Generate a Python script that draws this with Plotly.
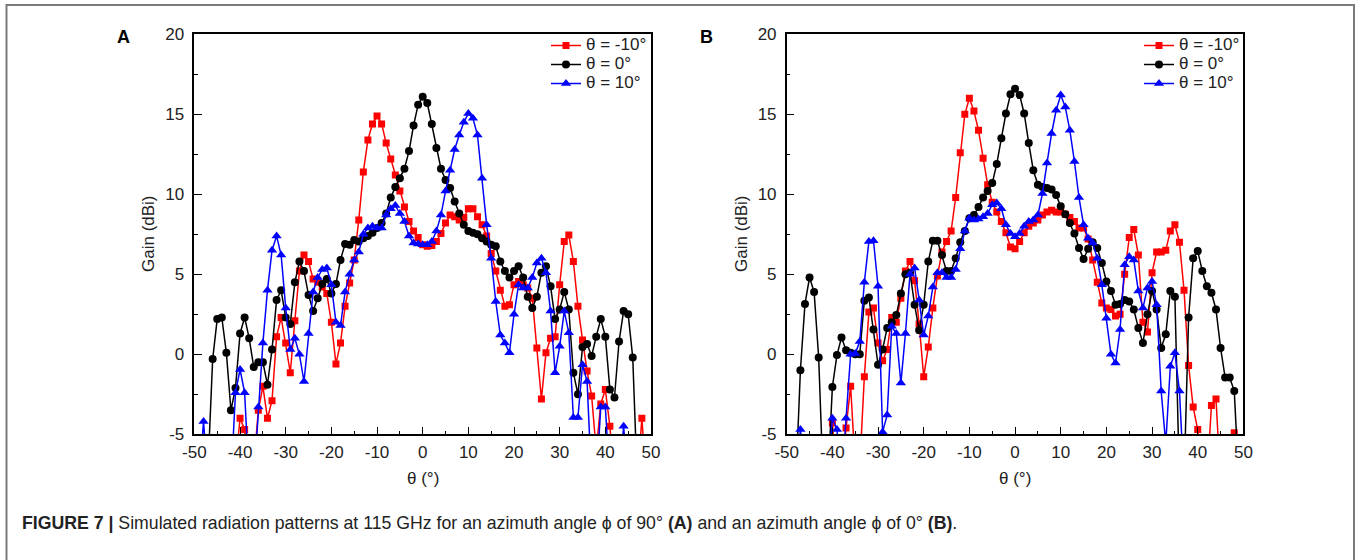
import plotly.graph_objects as go

# ---------------- data ----------------
theta = list(range(-50, 51))  # 1-degree steps
OFF = -8  # values below the plotted range (clipped by the axis)

# Panel A (phi = 90 deg)
a_red = [OFF, OFF, OFF, OFF, OFF, OFF, OFF, OFF, OFF, -7,
         -4.0, -4.7, OFF, -7, -3.5, -2.0, -4.0, -2.9, 1.1, 2.3,
         0.7, -1.15, 2.1, 5.2, 6.2, 5.8, 4.7, 4.5, 4.2, 3.8,
         2.0, -0.6, 0.7, 3.0, 4.45, 5.9, 8.4, 11.4, 13.4, 14.4,
         14.9, 14.4, 13.2, 12.2, 11.2, 10.2, 9.2, 8.3, 7.7, 7.3,
         6.85, 6.75, 6.8, 7.05, 7.55, 8.2, 8.7, 8.6, 8.4, 8.55,
         9.1, 9.1, 8.6, 8.1, 7.4, 6.3, 5.2, 4.0, 3.0, 3.1,
         4.35, 4.55, 4.35, 4.15, 3.5, 0.4, -2.8, 0.1, 1.0, 1.1,
         4.35, 7.05, 7.45, 5.8, 3.0, 0.9, -1.05, -2.6, -6, -3.1,
         -2.2, -4.5, OFF, OFF, OFF, OFF, OFF, OFF, -4.0, OFF,
         OFF]
a_black = [OFF, OFF, OFF, -7, -0.3, 2.2, 2.3, 0.1, -3.5, -2.1,
           1.3, 2.3, 1.0, -0.8, -0.5, -0.5, -1.9, 0.3, 3.4, 4.0,
           2.3, 1.9, 4.5, 5.8, 5.2, 3.7, 2.7, 3.5, 4.4, 4.7,
           3.8, 4.4, 5.9, 6.9, 6.85, 7.15, 7.05, 7.25, 7.4, 7.6,
           7.9, 8.2, 8.8, 9.8, 10.45, 11.0, 11.6, 12.7, 14.3, 15.6,
           16.1, 15.7, 14.4, 12.9, 11.6, 10.9, 10.4, 9.55, 8.8, 8.1,
           7.7, 7.6, 7.5, 7.25, 7.05, 6.85, 6.75, 5.8, 5.2, 4.8,
           5.2, 5.5, 4.8, 3.6, 2.9, 3.6, 5.1, 5.5, 4.25, 2.2,
           2.8, 3.9, 2.8, -1.15, -2.5, 0.45, 0.65, -0.1, 1.1, 2.2,
           1.1, -2.2, -2.7, 0.8, 2.7, 2.5, -0.2, OFF, OFF, OFF,
           OFF]
a_blue = [OFF, OFF, -4.2, OFF, OFF, OFF, OFF, OFF, OFF, -2.4,
          -0.95, -2.4, OFF, OFF, -3.3, 0.7, 4.0, 6.5, 7.4, 6.2,
          2.9, 0.3, 1.0, 0.0, -1.7, 1.3, 3.9, 4.8, 5.3, 5.4,
          4.35, 2.0, 1.8, 3.9, 5.0, 5.9, 6.4, 7.5, 7.9, 8.0,
          7.9, 7.9, 8.7, 9.1, 9.3, 8.8, 8.3, 7.4, 6.95, 6.9,
          6.85, 6.85, 7.05, 7.7, 8.7, 10.2, 11.5, 12.8, 13.7, 14.5,
          15.05, 14.75, 13.7, 11.0, 8.1, 6.0, 3.3, 1.2, 0.7, 0.1,
          2.5, 4.35, 4.15, 4.15, 4.8, 5.7, 6.0, 5.1, 2.7, -1.15,
          0.5, 2.7, 1.35, -3.95, -3.95, -0.65, -1.7, OFF, OFF, -3.3,
          -3.3, OFF, OFF, OFF, -4.5, OFF, OFF, OFF, OFF, OFF,
          OFF]

# Panel B (phi = 0 deg)
b_red = [OFF, OFF, OFF, OFF, OFF, OFF, OFF, OFF, OFF, OFF,
         -4.3, OFF, OFF, -4.6, -2.0, -7, -7, -1.4, 2.65, 2.9,
         0.7, -0.4, 0.3, 2.3, 2.0, 3.5, 5.2, 5.8, 4.6, 1.9,
         -1.4, 0.45, 2.9, 4.9, 6.4, 7.05, 7.7, 9.8, 12.6, 15.0,
         16.0, 15.2, 14.0, 12.25, 10.6, 9.5, 8.9, 8.3, 7.6, 6.7,
         6.6, 7.05, 7.6, 8.0, 8.2, 8.4, 8.7, 8.9, 9.0, 8.9,
         8.9, 8.75, 8.55, 8.3, 7.9, 7.9, 7.2, 5.9, 4.5, 3.2,
         2.9, 2.8, 2.4, 2.5, 5.0, 7.3, 7.8, 6.2, 2.0, 1.4,
         5.1, 6.4, 6.4, 6.5, 7.7, 8.1, 7.0, 4.0, -0.7, -3.3,
         -4.7, OFF, OFF, -3.2, -2.8, OFF, OFF, OFF, -4.9, OFF,
         OFF]
b_black = [OFF, OFF, OFF, -1.0, 3.15, 4.8, 3.9, -0.2, OFF, OFF,
           -2.05, -0.05, 1.05, 0.25, 0.1, 0.0, 0.0, 3.35, 3.55, 1.55,
           -0.65, 0.3, 1.65, 2.0, 2.45, 3.8, 5.0, 5.1, 3.1, 1.5,
           3.1, 5.8, 7.1, 7.1, 6.2, 5.2, 5.2, 6.0, 7.0, 7.7,
           8.5, 8.7, 9.2, 9.8, 10.2, 10.7, 11.9, 13.5, 15.05, 16.25,
           16.6, 16.2, 15.05, 13.2, 11.5, 10.6, 10.45, 10.4, 10.3, 9.95,
           9.25, 8.75, 8.2, 7.55, 6.65, 5.95, 6.6, 7.0, 6.65, 5.7,
           4.55, 3.95, 3.1, 3.15, 3.4, 3.3, 2.8, 1.65, 0.7, 2.5,
           3.95, 2.8, 0.4, 1.25, 3.95, 3.6, OFF, OFF, 2.3, 6.0,
           6.45, 5.2, 4.25, 3.85, 2.8, 0.4, -1.45, -1.45, -2.3, OFF,
           OFF]
b_blue = [OFF, OFF, OFF, -4.7, OFF, OFF, OFF, OFF, OFF, OFF,
          -4.0, -4.7, OFF, -4.0, 0.0, 0.05, 0.8, 4.5, 7.05, 7.1,
          4.25, -4.85, -3.8, 1.75, 1.3, -1.8, 1.3, 5.0, 5.4, 3.4,
          1.2, 2.4, 4.2, 5.1, 5.1, 4.8, 4.8, 5.3, 6.6, 7.7,
          8.5, 8.4, 8.45, 8.6, 8.8, 9.35, 9.45, 9.1, 8.1, 7.55,
          7.35, 7.55, 8.0, 8.3, 8.4, 8.7, 10.05, 11.95, 13.8, 15.25,
          16.2, 15.45, 14.0, 12.05, 9.8, 8.1, 7.25, 6.95, 6.0, 4.35,
          2.25, 0.0, -0.55, 1.55, 5.6, 6.1, 5.9, 3.95, 2.9, 4.15,
          4.55, 3.1, -2.3, -5.6, -0.75, 0.1, -2.3, OFF, OFF, OFF,
          OFF, OFF, OFF, OFF, OFF, OFF, OFF, OFF, OFF, OFF,
          OFF]

series_names = ["θ = -10°", "θ = 0°", "θ = 10°"]
x_ticks = [-50, -40, -30, -20, -10, 0, 10, 20, 30, 40, 50]
x_tick_labels = ["-50", "-40", "-30", "-20", "-10", "0", "10", "20", "30", "40", "50"]
y_ticks = [-5, 0, 5, 10, 15, 20]
y_tick_labels = ["-5", "0", "5", "10", "15", "20"]

# ---------------- figure ----------------
W, H = 1359, 560
def px(x):
    return x / W
def py(y):
    return 1 - y / H

FONT = "Liberation Sans, Arial, Helvetica, sans-serif"
colors = ["#ff0000", "#000000", "#0000ff"]
symbols = ["square", "circle", "triangle-up"]
msizes = [7, 8, 9]

fig = go.Figure()
panels = [
    ("x", "y", "legend", [a_red, a_black, a_blue]),
    ("x2", "y2", "legend2", [b_red, b_black, b_blue]),
]
for xa, ya, lg, data in panels:
    for name, vals, c, s, ms in zip(series_names, data, colors, symbols, msizes):
        fig.add_trace(go.Scatter(
            x=theta, y=vals, mode="lines+markers",
            name='<span style="font-size:17px">' + name + '</span>',
            xaxis=xa, yaxis=ya, legend=lg,
            line=dict(color=c, width=1.5),
            marker=dict(color=c, symbol=s, size=ms, line=dict(width=0)),
        ))

ax_common = dict(
    showline=True, linecolor="black", linewidth=1.5, mirror=True,
    showgrid=False, zeroline=False, automargin=False,
    ticks="inside", ticklen=8, tickwidth=1.3, tickcolor="black",
    tickfont=dict(family=FONT, size=17, color="#222"),
)
xa_common = dict(ax_common, range=[-50, 50], tickmode="array",
                 tickvals=x_ticks, ticktext=x_tick_labels,
                 minor=dict(dtick=5, tick0=-50, ticks="inside", ticklen=4, tickwidth=1.3, tickcolor="black"),
                 ticklabelstandoff=2)
ya_common = dict(ax_common, range=[-5, 20], tickmode="array",
                 tickvals=y_ticks, ticktext=y_tick_labels,
                 minor=dict(dtick=2.5, tick0=-5, ticks="inside", ticklen=4, tickwidth=1.3, tickcolor="black"),
                 ticklabelstandoff=5)

ydom = [py(434.3), py(34.3)]
fig.update_layout(
    width=W, height=H, autosize=False,
    margin=dict(l=0, r=0, t=0, b=0, pad=0, autoexpand=False),
    paper_bgcolor="white", plot_bgcolor="white",
    showlegend=True,
    xaxis=dict(xa_common, domain=[px(194.4), px(651.0)], anchor="y"),
    yaxis=dict(ya_common, domain=ydom, anchor="x"),
    xaxis2=dict(xa_common, domain=[px(786.7), px(1243.4)], anchor="y2"),
    yaxis2=dict(ya_common, domain=ydom, anchor="x2"),
)

leg_common = dict(xanchor="right", yanchor="top", bgcolor="rgba(0,0,0,0)",
                  borderwidth=0, font=dict(family=FONT, size=12, color="#222"),
                  itemwidth=30, tracegroupgap=0)
fig.update_layout(
    legend=dict(leg_common, x=px(652), y=py(31)),
    legend2=dict(leg_common, x=px(1245), y=py(31)),
)

ann = []
def add_text(text, x, y, size, color="#222", angle=0, xanchor="center", yanchor="middle"):
    ann.append(dict(text=text, x=px(x), y=py(y), xref="paper", yref="paper",
                    xanchor=xanchor, yanchor=yanchor, showarrow=False, textangle=angle,
                    font=dict(family=FONT, size=size, color=color)))

# panel letters
add_text("<b>A</b>", 123.5, 37, 18, color="black")
add_text("<b>B</b>", 706.5, 37, 18, color="black")
# axis titles
for cx, gx in [(423, 148), (1015, 741)]:
    add_text("θ (°)", cx, 478, 17)
    add_text("Gain (dBi)", gx, 234, 17, angle=-90)
# caption
add_text("<b>FIGURE 7 |</b> Simulated radiation patterns at 115 GHz for an azimuth angle ϕ of 90° "
         "<b>(A)</b> and an azimuth angle ϕ of 0° <b>(B)</b>.",
         20, 523, 17.7, xanchor="left")
fig.update_layout(annotations=ann)

# outer frame of the figure panel
fig.add_shape(type="rect", xref="paper", yref="paper",
              x0=px(6.5), x1=px(1354), y0=py(600), y1=py(5),
              line=dict(color="#7a7a7a", width=2), fillcolor="rgba(0,0,0,0)", layer="above")

fig.write_html("out.html", config={"displayModeBar": False},
               post_script="document.body.style.margin='0px';")
